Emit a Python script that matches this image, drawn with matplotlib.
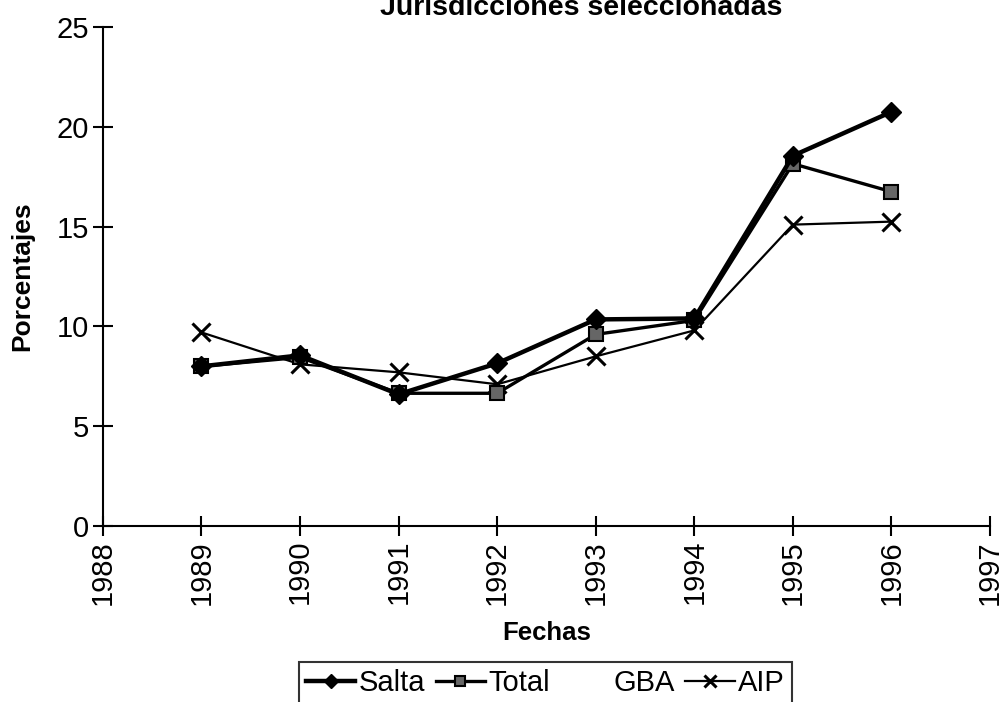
import matplotlib
matplotlib.use("Agg")
import matplotlib.pyplot as plt

plt.rcParams['font.family'] = ['Liberation Sans', 'DejaVu Sans']

years = [1989, 1990, 1991, 1992, 1993, 1994, 1995, 1996]
salta = [8.0, 8.55, 6.6, 8.15, 10.35, 10.4, 18.55, 20.75]
total = [8.0, 8.45, 6.65, 6.65, 9.6, 10.3, 18.15, 16.75]
gba = [8.0, 8.6, 6.6, 7.0, 10.4, 10.5, 18.4, 20.9]
aip = [9.7, 8.1, 7.7, 7.1, 8.5, 9.8, 15.1, 15.25]

title = "Jurisdicciones seleccionadas"
xlabel = "Fechas"
ylabel = "Porcentajes"
xticks = list(range(1988, 1998))
yticks = [0, 5, 10, 15, 20, 25]

fig = plt.figure(figsize=(9.99, 7.02), dpi=100)
ax = fig.add_axes([0.103, 0.2507, 0.888, 0.7108])

ax.plot(years, gba, color='white', lw=1.5, label='GBA', zorder=1)
ax.plot(years, aip, color='black', lw=1.6, marker='x', ms=13, mew=2.2, label='AIP', zorder=2)
ax.plot(years, total, color='black', lw=2.4, marker='s', ms=10, mfc='#666666', mec='black', mew=1.5, label='Total', zorder=3)
ax.plot(years, salta, color='black', lw=3.2, marker='D', ms=10, mfc='black', mec='black', label='Salta', zorder=4)

ax.set_xlim(1988, 1997)
ax.set_ylim(0, 25)
ax.set_xticks(xticks)
ax.set_xticklabels([str(x) for x in xticks], rotation=90, fontsize=21)
ax.set_yticks(yticks)
ax.set_yticklabels([str(y) for y in yticks], fontsize=21)
ax.tick_params(direction='inout', length=14, width=1.5, pad=3)
for s in ['top', 'right']:
    ax.spines[s].set_visible(False)
for s in ['left', 'bottom']:
    ax.spines[s].set_linewidth(1.5)

ax.set_xlabel(xlabel, fontsize=18.5, fontweight='bold', labelpad=12)
ax.set_ylabel(ylabel, fontsize=19, fontweight='bold', labelpad=16)

fig.text(0.582, 1 - 15 / 702, title, ha='center', va='baseline', fontsize=20.5, fontweight='bold')

h, l = ax.get_legend_handles_labels()
order = [l.index(n) for n in ['Salta', 'Total', 'GBA', 'AIP']]
leg = fig.legend([h[i] for i in order], [l[i] for i in order], loc='upper center',
                 bbox_to_anchor=(0.546, 1 - 662 / 702), ncol=4, fontsize=21, frameon=True,
                 fancybox=False, edgecolor='black', handlelength=1.7, handletextpad=0.12,
                 columnspacing=0.35, borderpad=0.25, borderaxespad=0, markerscale=0.7)
leg.get_frame().set_linewidth(1.5)

fig.savefig('out.png', dpi=100)
